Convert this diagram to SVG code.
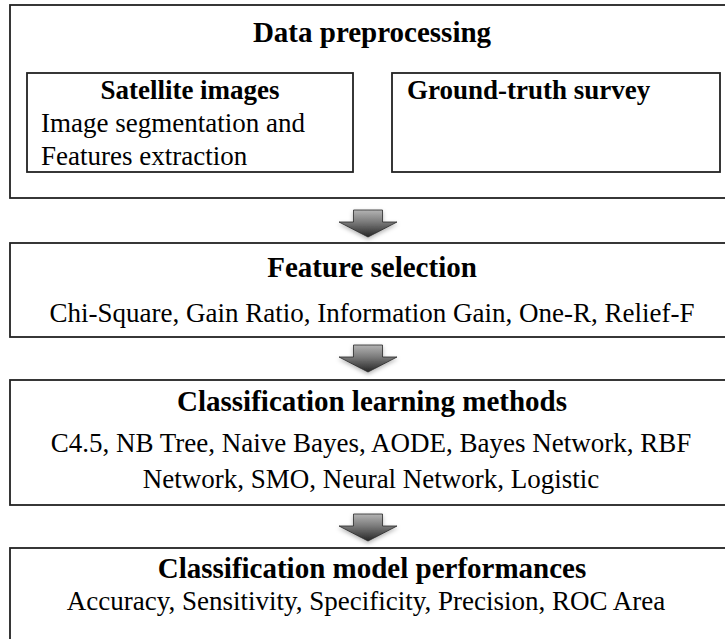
<svg xmlns="http://www.w3.org/2000/svg" width="725" height="639" viewBox="0 0 725 639">
  <defs>
    <style>
      .box { fill: #ffffff; stroke: #222222; stroke-width: 1.8; }
      text { fill: #000000; }
      .title { font-weight: bold; font-size: 29px; text-anchor: middle; }
      .sub { font-weight: bold; font-size: 27px; }
      .body { font-size: 27px; }
      .mid { text-anchor: middle; }
      .arrow { fill: url(#arrowFill); stroke: #2a2a2a; stroke-width: 0.8; filter: url(#soft); }
    </style>
    <linearGradient id="arrowFill" x1="0" y1="0" x2="0" y2="1">
      <stop offset="0" stop-color="#b4b4b4"/>
      <stop offset="0.45" stop-color="#7a7a7a"/>
      <stop offset="1" stop-color="#262626"/>
    </linearGradient>
    <filter id="soft" x="-30%" y="-30%" width="160%" height="170%">
      <feDropShadow dx="0" dy="2" stdDeviation="2" flood-color="#000" flood-opacity="0.3"/>
    </filter>
    <!-- block arrow pointing down -->
    <path id="downArrow" d="M -14.5 0 H 14.5 V 12 H 29 L 0 27 L -29 12 H -14.5 Z"/>
  </defs>

  <rect width="725" height="639" fill="#ffffff"/>

  <g font-family="Liberation Serif, DejaVu Serif, serif">
    <!-- stage 1 -->
    <g id="data-preprocessing">
      <rect class="box" x="10" y="5" width="726" height="193"/>
      <text class="title" x="372" y="42">Data preprocessing</text>
    </g>
    <g id="satellite-images">
      <rect class="box" x="27" y="73" width="326" height="99"/>
      <text class="sub mid" x="190" y="99">Satellite images</text>
      <text class="body" x="41" y="132">Image segmentation and</text>
      <text class="body" x="41" y="165">Features extraction</text>
    </g>
    <g id="ground-truth-survey">
      <rect class="box" x="392" y="73" width="328" height="99"/>
      <text class="sub" x="407" y="99">Ground-truth survey</text>
    </g>

    <!-- stage 2 -->
    <g id="feature-selection">
      <rect class="box" x="10" y="243" width="726" height="94"/>
      <text class="title" x="372" y="277">Feature selection</text>
      <text class="body mid" x="372" y="322">Chi-Square, Gain Ratio, Information Gain, One-R, Relief-F</text>
    </g>

    <!-- stage 3 -->
    <g id="classification-learning-methods">
      <rect class="box" x="10" y="380" width="726" height="125"/>
      <text class="title" x="372" y="411">Classification learning methods</text>
      <text class="body mid" x="371" y="452">C4.5, NB Tree, Naive Bayes, AODE, Bayes Network, RBF</text>
      <text class="body mid" x="371" y="488">Network, SMO, Neural Network, Logistic</text>
    </g>

    <!-- stage 4 -->
    <g id="classification-model-performances">
      <rect class="box" x="10" y="548" width="726" height="100"/>
      <text class="title" x="372" y="578">Classification model performances</text>
      <text class="body mid" x="366" y="610">Accuracy, Sensitivity, Specificity, Precision, ROC Area</text>
    </g>
  </g>

  <!-- flow arrows between stages -->
  <g id="connectors">
    <use href="#downArrow" class="arrow" transform="translate(368,210)"/>
    <use href="#downArrow" class="arrow" transform="translate(368,345)"/>
    <use href="#downArrow" class="arrow" transform="translate(368,514)"/>
  </g>
</svg>
